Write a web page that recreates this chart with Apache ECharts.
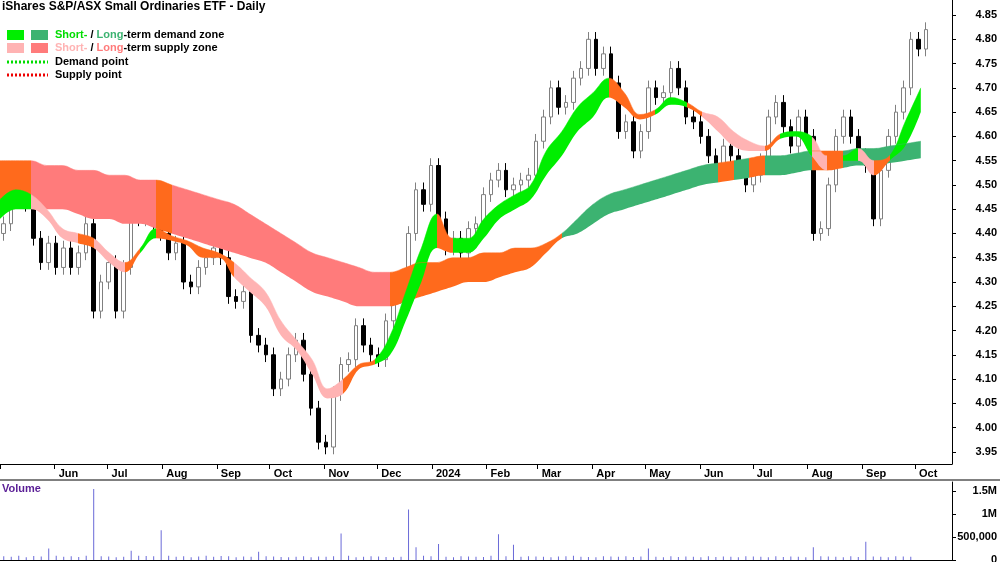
<!DOCTYPE html>
<html>
<head>
<meta charset="utf-8">
<script src="https://cdn.jsdelivr.net/npm/echarts@6/dist/echarts.min.js"></script>
<style>html,body{margin:0;padding:0;background:#fff}</style>
</head>
<body>
<div id="chart" style="width:1000px;height:562px;"></div>
<script>
// daily closes, sampled about every 3 trading days (May 2023 - Oct 2024)
var closes = [4.42,4.50,4.50,4.46,4.39,4.34,4.38,4.33,4.37,4.33,4.36,4.42,4.24,4.30,4.34,4.24,
  4.33,4.44,4.43,4.47,4.42,4.40,4.36,4.38,4.30,4.29,4.33,4.35,4.37,4.35,4.27,4.26,4.28,4.19,
  4.17,4.15,4.08,4.10,4.15,4.18,4.11,4.04,3.97,3.96,4.07,4.13,4.14,4.21,4.17,4.15,4.14,4.22,
  4.27,4.28,4.40,4.49,4.46,4.54,4.43,4.37,4.39,4.36,4.41,4.42,4.48,4.51,4.53,4.49,4.50,4.51,
  4.52,4.59,4.64,4.70,4.66,4.67,4.72,4.74,4.80,4.74,4.77,4.71,4.61,4.63,4.57,4.61,4.70,4.68,
  4.69,4.74,4.70,4.64,4.63,4.60,4.56,4.54,4.58,4.56,4.53,4.50,4.52,4.55,4.64,4.67,4.62,4.58,
  4.64,4.60,4.40,4.41,4.50,4.60,4.64,4.60,4.56,4.54,4.43,4.53,4.60,4.65,4.70,4.80,4.78,4.82];
var firstOpen = 4.40;
var volumes = [80,70,90,60,85,75,250,90,70,80,65,90,1550,80,75,60,70,200,90,85,80,650,90,70,
  80,60,75,90,70,85,80,60,75,70,180,80,75,65,60,70,80,60,75,70,80,580,90,60,70,80,75,65,
  60,70,1100,280,90,80,350,70,60,80,75,70,65,90,560,80,330,70,80,75,70,60,75,80,90,70,65,
  60,80,75,70,80,65,75,250,70,60,80,65,75,70,60,80,65,75,70,60,80,75,70,60,80,65,75,70,60,
  280,80,75,70,60,80,65,400,75,70,60,80,75,70];
var priceTicks = [3.95,4.00,4.05,4.10,4.15,4.20,4.25,4.30,4.35,4.40,4.45,4.50,4.55,4.60,4.65,4.70,4.75,4.80,4.85];
var volumeTicks = [0,500000,1000000,1500000];

// smoothed zones, sampled at evenly spaced points across the chart
var shortLo = [4.43,4.45,4.45,4.43,4.39,4.38,4.37,4.34,4.32,4.36,4.39,4.385,4.375,4.35,4.35,4.31,
  4.28,4.25,4.19,4.16,4.11,4.06,4.07,4.12,4.13,4.15,4.22,4.30,4.37,4.36,4.36,4.39,4.43,4.45,4.47,
  4.52,4.56,4.61,4.64,4.68,4.66,4.635,4.645,4.665,4.66,4.64,4.61,4.58,4.57,4.57,4.595,4.60,4.56,
  4.53,4.55,4.55,4.52,4.55,4.58,4.65];
var shortHi = [4.47,4.49,4.48,4.45,4.41,4.40,4.39,4.36,4.34,4.37,4.41,4.395,4.385,4.37,4.36,4.34,
  4.31,4.28,4.22,4.18,4.14,4.08,4.10,4.13,4.14,4.19,4.28,4.37,4.44,4.39,4.39,4.43,4.46,4.48,4.50,
  4.57,4.61,4.66,4.69,4.72,4.69,4.645,4.655,4.68,4.67,4.65,4.64,4.61,4.59,4.58,4.605,4.61,4.60,
  4.56,4.56,4.575,4.55,4.56,4.63,4.70];
var longLo = [4.47,4.47,4.46,4.45,4.45,4.44,4.43,4.43,4.42,4.42,4.41,4.40,4.39,4.38,4.37,4.36,
  4.35,4.34,4.32,4.30,4.28,4.27,4.26,4.25,4.25,4.25,4.26,4.27,4.28,4.29,4.30,4.30,4.31,4.32,4.33,
  4.36,4.39,4.40,4.42,4.44,4.45,4.46,4.47,4.48,4.49,4.50,4.505,4.51,4.515,4.52,4.52,4.525,4.53,
  4.53,4.535,4.54,4.54,4.545,4.55,4.555];
var longHi = [4.55,4.55,4.55,4.54,4.54,4.53,4.53,4.52,4.52,4.51,4.51,4.50,4.49,4.48,4.47,4.46,
  4.44,4.42,4.40,4.38,4.36,4.35,4.34,4.33,4.32,4.32,4.33,4.34,4.34,4.35,4.35,4.36,4.36,4.37,4.37,
  4.38,4.40,4.43,4.46,4.48,4.49,4.50,4.51,4.52,4.53,4.54,4.545,4.55,4.555,4.56,4.56,4.565,4.57,
  4.57,4.57,4.575,4.575,4.58,4.585,4.59];
// zone colour runs: [from, to, state] in zone-sample units
var shortRuns = [[0,1.7,'d'],[1.7,2.3,'n'],[2.3,5.2,'s'],[5.2,5.8,'n'],[5.8,7.9,'s'],[7.9,8.6,'n'],
  [8.6,10.4,'d'],[10.4,12.5,'n'],[12.5,13.4,'s'],[13.4,14.6,'n'],[14.6,21.5,'s'],[21.5,24.2,'n'],
  [24.2,28.2,'d'],[28.2,29.2,'n'],[29.2,29.6,'d'],[29.6,30.4,'n'],[30.4,39.4,'d'],[39.4,41.5,'n'],
  [41.5,43.6,'d'],[43.6,44.5,'n'],[44.5,48.8,'s'],[48.8,49.5,'n'],[49.5,51.7,'d'],[51.7,52.8,'s'],
  [52.8,54.2,'n'],[54.2,54.8,'d'],[54.8,56.3,'s'],[56.3,56.8,'n'],[56.8,62,'d']];
var longRuns = [[0,2.1,'n'],[2.1,8.8,'s'],[8.8,9.3,'n'],[9.3,10.05,'s'],[10.05,10.6,'n'],
  [10.6,25.2,'s'],[25.2,35.7,'n'],[35.7,46.3,'d'],[46.3,46.6,'n'],[46.6,47.9,'d'],[47.9,48.9,'n'],
  [48.9,51.9,'d'],[51.9,53.6,'n'],[53.6,62,'d']];

var shortCol = {d:'#00ee00', s:'#ffb3b3', n:'#ff6a1c'};
var longCol = {d:'#3cb371', s:'#ff7b7b', n:'#ff6a1c'};

var NCAT = 127, NZ = 62;
var cats = [], zcats = [];
for (var i = 0; i < NCAT; i++) cats.push(i);
for (var i = 0; i < NZ; i++) zcats.push(i);

var candles = [], prev = firstOpen;
for (var i = 0; i < closes.length; i++) {
  var o = prev, c = closes[i];
  candles.push([o, c, Math.min(o, c) - 0.015, Math.max(o, c) + 0.015]);
  prev = c;
}

function pieces(runs, cols) {
  return runs.map(function (r) { return {gte: r[0], lt: r[1], color: cols[r[2]]}; });
}
function bandSeries(lo, hi, name) {
  var base = [], diff = [];
  for (var i = 0; i < lo.length; i++) {
    base.push([i, lo[i]]);
    diff.push([i, +(hi[i] - lo[i]).toFixed(4)]);
  }
  return [
    {type: 'line', name: name + 'b', xAxisIndex: 2, yAxisIndex: 0, data: base, stack: name,
     smooth: 0.4, symbol: 'none', lineStyle: {opacity: 0}, silent: true},
    {type: 'line', name: name, xAxisIndex: 2, yAxisIndex: 0, data: diff, stack: name,
     smooth: 0.4, symbol: 'none', lineStyle: {width: 0.5}, areaStyle: {opacity: 1}, silent: true}
  ];
}

var series = [].concat(bandSeries(longLo, longHi, 'long'), bandSeries(shortLo, shortHi, 'short'));
series.push({
  type: 'candlestick', xAxisIndex: 0, yAxisIndex: 0, data: candles, barWidth: 4,
  itemStyle: {color: '#ffffff', color0: '#000000', borderColor: '#808080', borderColor0: '#000000', borderWidth: 1}
});
series.push({
  type: 'bar', xAxisIndex: 3, yAxisIndex: 1, data: volumes.map(function (v) { return v * 1000; }),
  barWidth: 1, itemStyle: {color: '#6a6ad8'}
});

var MONTHS = ['Jan','Feb','Mar','Apr','May','Jun','Jul','Aug','Sep','Oct','Nov','Dec'];
var bold = {fontFamily: 'Liberation Sans', fontWeight: 'bold', fontSize: 11, color: '#000'};
var startDate = '2023-05-01', endDate = '2024-10-22';

var chart = echarts.init(document.getElementById('chart'));
chart.setOption({
  animation: false,
  grid: [
    {left: 0, right: 48, top: 0, height: 464, outerBoundsMode: 'none'},
    {left: 0, right: 48, top: 482, height: 78, outerBoundsMode: 'none'}
  ],
  xAxis: [
    {type: 'category', gridIndex: 0, position: 'top', data: cats, boundaryGap: true, show: false},
    {type: 'time', gridIndex: 0, position: 'bottom', min: startDate, max: endDate,
     minInterval: 28 * 86400000, maxInterval: 31 * 86400000,
     axisLine: {onZero: false, lineStyle: {color: '#000'}}, axisTick: {length: 5, lineStyle: {color: '#000'}},
     splitLine: {show: false},
     axisLabel: Object.assign({align: 'left', padding: [0, 0, 0, 4], margin: 4, showMinLabel: false, showMaxLabel: false,
       formatter: function (v) {
         var d = new Date(v);
         if (d.getFullYear() === 2023 && d.getMonth() === 4) return '';
         return d.getMonth() === 0 ? String(d.getFullYear()) : MONTHS[d.getMonth()];
       }}, bold)},
    {type: 'category', gridIndex: 0, position: 'top', data: zcats, boundaryGap: false, show: false},
    {type: 'category', gridIndex: 1, data: cats, boundaryGap: true,
     axisLine: {lineStyle: {color: '#000'}}, axisTick: {show: false}, axisLabel: {show: false}}
  ],
  yAxis: [
    {type: 'value', gridIndex: 0, position: 'right', min: 3.925, max: 4.881,
     splitLine: {show: false}, axisLine: {show: true, lineStyle: {color: '#000'}},
     axisTick: {show: true, length: 4, customValues: priceTicks, lineStyle: {color: '#000'}},
     axisLabel: Object.assign({margin: 45, align: 'right', customValues: priceTicks,
       formatter: function (v) { return v.toFixed(2); }}, bold)},
    {type: 'value', gridIndex: 1, position: 'right', min: 0, max: 1700000,
     splitLine: {show: false}, axisLine: {show: true, lineStyle: {color: '#000'}},
     axisTick: {show: true, length: 4, customValues: volumeTicks, lineStyle: {color: '#000'}},
     axisLabel: Object.assign({margin: 45, align: 'right', customValues: volumeTicks,
       formatter: function (v) { return v === 0 ? '0' : v === 500000 ? '500,000' : (v / 1e6) + 'M'; }}, bold)}
  ],
  visualMap: [
    {type: 'piecewise', show: false, dimension: 0, seriesIndex: 1, pieces: pieces(longRuns, longCol)},
    {type: 'piecewise', show: false, dimension: 0, seriesIndex: 3, pieces: pieces(shortRuns, shortCol)}
  ],
  series: series,
  graphic: [
    {type: 'text', left: 2, top: 1, style: {text: 'iShares S&P/ASX Small Ordinaries ETF - Daily', font: 'bold 12px Liberation Sans', fill: '#000'}},
    {type: 'rect', shape: {x: 7, y: 30, width: 17, height: 10}, style: {fill: '#00ee00'}},
    {type: 'rect', shape: {x: 31, y: 30, width: 17, height: 10}, style: {fill: '#3cb371'}},
    {type: 'rect', shape: {x: 7, y: 43, width: 17, height: 10}, style: {fill: '#ffb3b3'}},
    {type: 'rect', shape: {x: 31, y: 43, width: 17, height: 10}, style: {fill: '#ff7b7b'}},
    {type: 'line', shape: {x1: 7, y1: 62, x2: 48, y2: 62}, style: {stroke: '#00dd00', lineWidth: 3, lineDash: [2, 2]}},
    {type: 'line', shape: {x1: 7, y1: 75, x2: 48, y2: 75}, style: {stroke: '#ee0000', lineWidth: 3, lineDash: [2, 2]}},
    {type: 'text', left: 55, top: 29, style: {text: '{g|Short-} / {dg|Long}-term demand zone',
      font: 'bold 11px Liberation Sans', fill: '#000', rich: {g: {fill: '#00dd00', font: 'bold 11px Liberation Sans'}, dg: {fill: '#3cb371', font: 'bold 11px Liberation Sans'}}}},
    {type: 'text', left: 55, top: 42, style: {text: '{p|Short-} / {r|Long}-term supply zone',
      font: 'bold 11px Liberation Sans', fill: '#000', rich: {p: {fill: '#ffb3b3', font: 'bold 11px Liberation Sans'}, r: {fill: '#ff7b7b', font: 'bold 11px Liberation Sans'}}}},
    {type: 'text', left: 55, top: 56, style: {text: 'Demand point', font: 'bold 11px Liberation Sans', fill: '#000'}},
    {type: 'text', left: 55, top: 69, style: {text: 'Supply point', font: 'bold 11px Liberation Sans', fill: '#000'}},
    {type: 'text', left: 2, top: 483, style: {text: 'Volume', font: 'bold 11px Liberation Sans', fill: '#5a1e96'}},
    {type: 'line', shape: {x1: 0, y1: 480, x2: 1000, y2: 480}, style: {stroke: '#000', lineWidth: 1}}
  ]
});
</script>
</body>
</html>
